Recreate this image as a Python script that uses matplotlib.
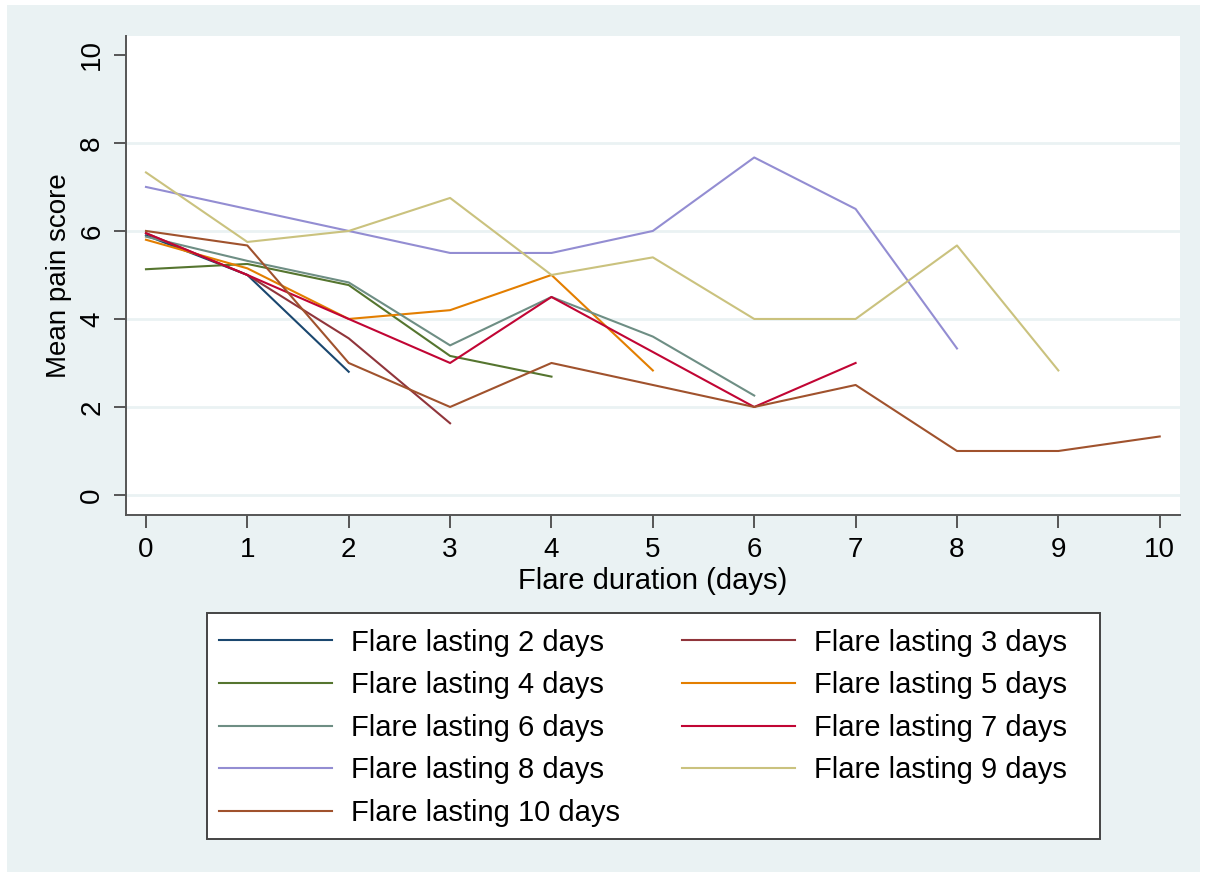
import matplotlib
matplotlib.use("Agg")
import matplotlib.pyplot as plt
from matplotlib.patches import Rectangle

# ---- data ----
durations = [2, 3, 4, 5, 6, 7, 8, 9, 10]
pain = {
    2: [5.9, 5.0, 2.8],
    3: [5.95, 5.0, 3.56, 1.63],
    4: [5.13, 5.25, 4.77, 3.16, 2.69],
    5: [5.8, 5.15, 4.0, 4.2, 5.0, 2.83],
    6: [5.87, 5.32, 4.83, 3.4, 4.5, 3.6, 2.26],
    7: [5.95, 5.0, 4.0, 3.0, 4.5, 3.25, 2.0, 3.0],
    8: [7.0, 6.5, 6.0, 5.5, 5.5, 6.0, 7.67, 6.5, 3.33],
    9: [7.33, 5.75, 6.0, 6.75, 5.0, 5.4, 4.0, 4.0, 5.67, 2.83],
    10: [6.0, 5.67, 3.0, 2.0, 3.0, 2.5, 2.0, 2.5, 1.0, 1.0, 1.33],
}
colors = {
    2: "#1a476f", 3: "#90353b", 4: "#55752f", 5: "#e37e00", 6: "#6e8e84",
    7: "#c10534", 8: "#938dd2", 9: "#cac27e", 10: "#a0522d",
}
xticks = list(range(0, 11))
yticks = [0, 2, 4, 6, 8, 10]

plt.rcParams['font.family'] = ['Liberation Sans', 'DejaVu Sans']

W, H = 1205, 877
fig = plt.figure(figsize=(W / 100, H / 100), dpi=100, facecolor="white")
bg = "#eaf2f3"
fig.patches.append(Rectangle((7 / W, 1 - 872 / H), (1200 - 7) / W, (872 - 5) / H,
                             transform=fig.transFigure, facecolor=bg,
                             edgecolor="none", zorder=-10))
# legend box drawn by hand so it can sit exactly like the Stata one
fig.patches.append(Rectangle((207 / W, 1 - 839 / H), (1100 - 207) / W, (839 - 613) / H,
                             transform=fig.transFigure, facecolor="white",
                             edgecolor="#444444", lw=1.4, zorder=-5))

ax = fig.add_axes([126 / W, 1 - 515 / H, (1180 - 126) / W, (515 - 36) / H])
ax.set_facecolor("white")

handles = {}
for d in durations:
    ys = pain[d]
    (ln,) = ax.plot(range(len(ys)), ys, color=colors[d], lw=1.5,
                    label=f"Flare lasting {d} days")
    handles[d] = ln

ax.set_xlim(-0.197, 10.2)
ax.set_ylim(-0.4545, 10.43)
ax.set_xticks(xticks)
ax.set_yticks(yticks)

# grid like Stata: light lines, none at the top tick
ax.grid(axis="y", color=bg, lw=2)
ax.get_ygridlines()[-1].set_visible(False)
ax.set_axisbelow(True)

for s in ["top", "right"]:
    ax.spines[s].set_visible(False)
for s in ["left", "bottom"]:
    ax.spines[s].set_color("#555555")
    ax.spines[s].set_linewidth(1.4)

ax.tick_params(axis="both", direction="out", length=9, width=1.4,
               color="#555555", labelsize=20)
ax.tick_params(axis="x", pad=7)
ax.tick_params(axis="y", pad=6, labelrotation=90)
for t in ax.get_yticklabels():
    t.set_va("center")

ax.set_ylabel("Mean pain score", fontsize=20)
ax.yaxis.set_label_coords(-0.051, 0.5)
ax.set_xlabel("Flare duration (days)", fontsize=21)
ax.xaxis.set_label_coords(0.5, -0.108)

order = [2, 4, 6, 8, 10, 3, 5, 7, 9]
leg = ax.legend([handles[d] for d in order],
                [handles[d].get_label() for d in order],
                ncol=2, loc="upper left",
                bbox_to_anchor=(207 / W, 1 - 617 / H),
                bbox_transform=fig.transFigure,
                fontsize=21, frameon=False,
                handlelength=3.9, handletextpad=0.65, columnspacing=2.1,
                labelspacing=0.5, borderpad=0.4, borderaxespad=0)

fig.savefig("out.png", dpi=100, facecolor=fig.get_facecolor())
